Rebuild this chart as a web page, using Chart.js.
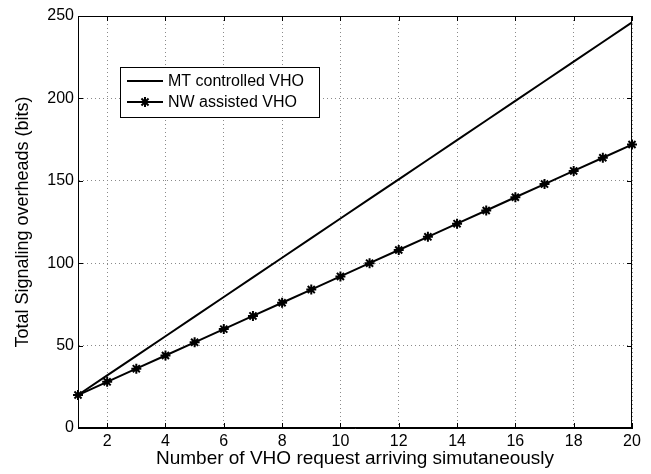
<!DOCTYPE html>
<html>
<head>
<meta charset="utf-8">
<script src="https://cdn.jsdelivr.net/npm/chart.js@4.4.0/dist/chart.umd.min.js"></script>
<style>
  html, body { margin: 0; padding: 0; background: #fff; }
</style>
</head>
<body>
<canvas id="chart" width="651" height="474"></canvas>
<script>
// values
const requests = [1, 2, 3, 4, 5, 6, 7, 8, 9, 10, 11, 12, 13, 14, 15, 16, 17, 18, 19, 20]
const mtControlled = [20, 31.9, 43.8, 55.7, 67.6, 79.5, 91.4, 103.3, 115.2, 127.1, 139, 150.9, 162.8, 174.7, 186.6, 198.5, 210.4, 222.3, 234.2, 246.1]
const nwAssisted = [20, 28, 36, 44, 52, 60, 68, 76, 84, 92, 100, 108, 116, 124, 132, 140, 148, 156, 164, 172]
const xTicks = [2, 4, 6, 8, 10, 12, 14, 16, 18, 20]
const yTicks = [0, 50, 100, 150, 200, 250]
const seriesNames = ['MT controlled VHO', 'NW assisted VHO']

const FONT = "'Liberation Sans', Arial, sans-serif"
Chart.defaults.font.family = FONT
Chart.defaults.color = '#000'

const toPoints = (ys) => requests.map((x, i) => ({ x, y: ys[i] }))

// box, inward ticks on all four sides (matlab look)
const framePlugin = {
  id: 'frame',
  afterDraw(chart) {
    const { ctx, chartArea: a, scales } = chart
    ctx.save()
    ctx.strokeStyle = '#000'
    ctx.lineWidth = 1
    ctx.strokeRect(a.left + 0.5, a.top + 0.5, a.right - a.left - 1, a.bottom - a.top - 1)
    const len = 5
    ctx.beginPath()
    xTicks.forEach((v) => {
      const px = Math.round(scales.x.getPixelForValue(v)) + 0.5
      ctx.moveTo(px, a.bottom); ctx.lineTo(px, a.bottom - len)
      ctx.moveTo(px, a.top); ctx.lineTo(px, a.top + len)
    })
    yTicks.forEach((v) => {
      const py = Math.round(scales.y.getPixelForValue(v)) + 0.5
      ctx.moveTo(a.left, py); ctx.lineTo(a.left + len, py)
      ctx.moveTo(a.right, py); ctx.lineTo(a.right - len, py)
    })
    ctx.stroke()
    ctx.restore()
  },
}

// legend box inside the plot, top left
const boxLegend = {
  id: 'boxLegend',
  afterDraw(chart) {
    const { ctx } = chart
    const x = 120, y = 67, w = 199, h = 50
    ctx.save()
    ctx.fillStyle = '#fff'
    ctx.fillRect(x, y, w, h)
    ctx.strokeStyle = '#000'
    ctx.lineWidth = 1
    ctx.strokeRect(x + 0.5, y + 0.5, w, h)
    ctx.font = '16px ' + FONT
    ctx.textBaseline = 'middle'
    ctx.fillStyle = '#000'
    chart.data.datasets.forEach((ds, i) => {
      const ry = y + 14 + i * 21
      ctx.strokeStyle = ds.borderColor
      ctx.lineWidth = ds.borderWidth
      ctx.beginPath()
      ctx.moveTo(x + 7, ry)
      ctx.lineTo(x + 43, ry)
      ctx.stroke()
      if (ds.pointRadius > 0) {
        Chart.helpers.drawPoint(ctx, {
          pointStyle: ds.pointStyle,
          radius: ds.pointRadius,
          borderWidth: ds.pointBorderWidth,
        }, x + 25, ry)
      }
      ctx.fillText(ds.label, x + 48, ry + 1)
    })
    ctx.restore()
  },
}

new Chart(document.getElementById('chart'), {
  type: 'line',
  data: {
    datasets: [
      {
        label: seriesNames[0],
        data: toPoints(mtControlled),
        borderColor: '#000',
        borderWidth: 2,
        pointRadius: 0,
        tension: 0,
        clip: false,
      },
      {
        label: seriesNames[1],
        data: toPoints(nwAssisted),
        borderColor: '#000',
        backgroundColor: '#000',
        borderWidth: 2,
        pointStyle: 'star',
        pointRadius: 5,
        pointBorderWidth: 2,
        pointBorderColor: '#000',
        tension: 0,
        clip: false,
      },
    ],
  },
  options: {
    responsive: false,
    animation: false,
    layout: { padding: { left: 0, top: 16, right: 19, bottom: 0 } },
    plugins: {
      legend: { display: false },
      tooltip: { enabled: false },
    },
    scales: {
      x: {
        type: 'linear',
        min: 1,
        max: 20,
        afterBuildTicks: (scale) => { scale.ticks = xTicks.map((v) => ({ value: v })) },
        afterFit: (scale) => { scale.height = 46 },
        ticks: { font: { size: 16 }, padding: 4, maxRotation: 0 },
        grid: { color: '#8a8a8a', tickLength: 0, lineWidth: 1 },
        border: { display: true, color: '#000', dash: [1, 3] },
        title: {
          display: true,
          text: 'Number of VHO request arriving simutaneously',
          font: { size: 19 },
          padding: { top: 0, bottom: 4 },
        },
      },
      y: {
        min: 0,
        max: 250,
        afterBuildTicks: (scale) => { scale.ticks = yTicks.map((v) => ({ value: v })) },
        afterFit: (scale) => { scale.width = 78 },
        ticks: { font: { size: 16 }, padding: 4 },
        grid: { color: '#8a8a8a', tickLength: 0, lineWidth: 1 },
        border: { display: true, color: '#000', dash: [1, 3] },
        title: {
          display: true,
          text: 'Total Signaling overheads (bits)',
          font: { size: 18 },
          padding: { top: 12, bottom: 0 },
        },
      },
    },
  },
  plugins: [framePlugin, boxLegend],
})
</script>
</body>
</html>
